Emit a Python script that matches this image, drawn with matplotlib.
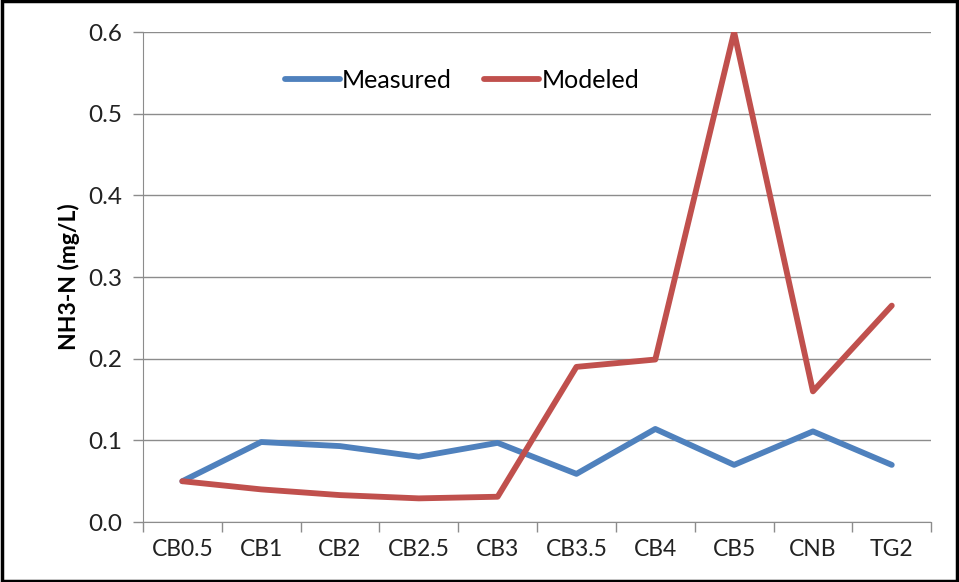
import matplotlib.pyplot as plt
from matplotlib.patches import Rectangle

plt.rcParams['font.family'] = ['Lato', 'DejaVu Sans']

sites = ['CB0.5', 'CB1', 'CB2', 'CB2.5', 'CB3', 'CB3.5', 'CB4', 'CB5', 'CNB', 'TG2']
measured = [0.050, 0.098, 0.093, 0.080, 0.097, 0.059, 0.114, 0.070, 0.111, 0.070]
modeled = [0.050, 0.040, 0.033, 0.029, 0.031, 0.190, 0.199, 0.600, 0.160, 0.265]

fig = plt.figure(figsize=(9.59, 5.82), dpi=100)
ax = fig.add_axes([0.149, 0.103, 0.822, 0.842])

x = list(range(len(sites)))
ax.plot(x, measured, color='#4F81BD', lw=4.2, label='Measured', solid_capstyle='round')
ax.plot(x, modeled, color='#C0504D', lw=4.2, label='Modeled', solid_capstyle='round')

ax.set_xlim(-0.5, len(sites) - 0.5)
ax.set_ylim(0, 0.6)
ax.set_yticks([0.0, 0.1, 0.2, 0.3, 0.4, 0.5, 0.6])
ax.set_yticklabels(['0.0', '0.1', '0.2', '0.3', '0.4', '0.5', '0.6'], fontsize=17.5, color='#222222')
ax.grid(axis='y', color='#8c8c8c', lw=1)
ax.set_axisbelow(True)

# category labels centred, ticks at the boundaries
ax.set_xticks(x)
ax.set_xticklabels(sites, fontsize=16.5, color='#222222')
ax.tick_params(axis='x', length=0, pad=12)
ax.set_xticks([i - 0.5 for i in range(len(sites) + 1)], minor=True)
ax.tick_params(axis='x', which='minor', length=7, color='#8c8c8c', width=1)
ax.tick_params(axis='y', length=7, color='#8c8c8c', width=1, pad=8)

for s in ['top', 'right']:
    ax.spines[s].set_visible(False)
for s in ['left', 'bottom']:
    ax.spines[s].set_color('#8c8c8c')

ax.set_ylabel('NH3-N (mg/L)', fontsize=16.5, fontweight='bold', labelpad=6)

ax.legend(loc='upper center', bbox_to_anchor=(0.405, 0.97), ncol=2, frameon=False,
          fontsize=18, handlelength=2.2, handletextpad=0.1, columnspacing=1.3)

fig.patches.append(Rectangle((0.002, 0.002), 0.996, 0.996, transform=fig.transFigure,
                             fill=False, edgecolor='black', lw=2.5))

fig.savefig('out.png', dpi=100)
